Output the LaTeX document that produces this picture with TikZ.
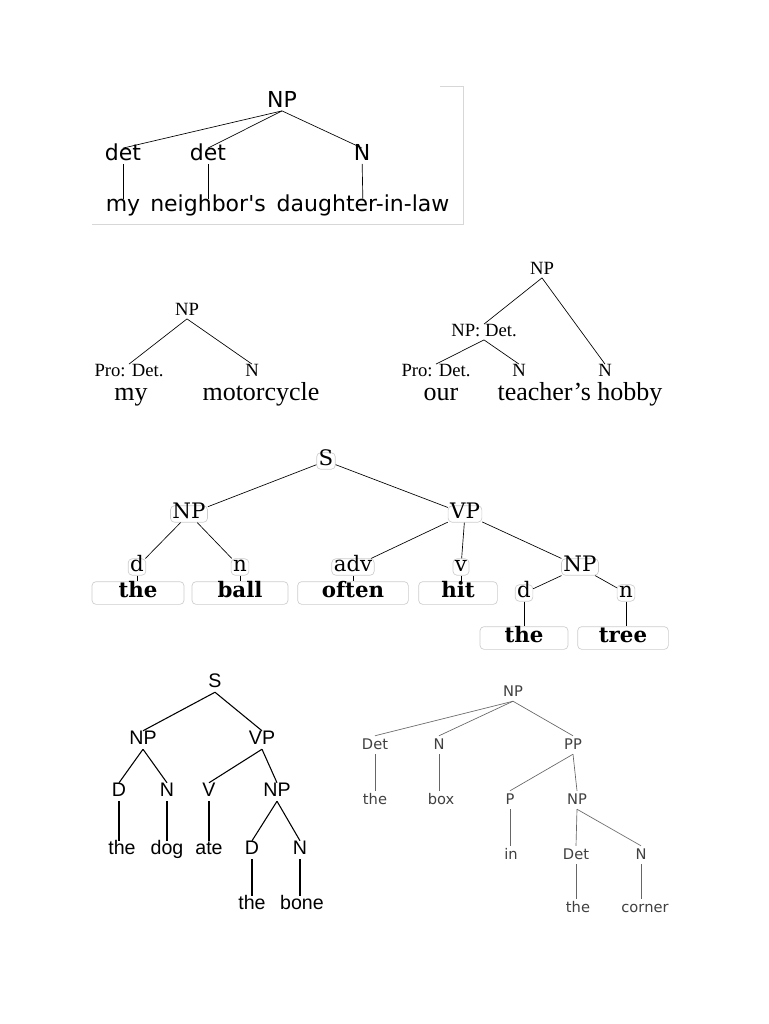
\documentclass[tikz,border=0pt]{standalone}
\usepackage{fontspec}
\setmainfont{DejaVu Serif}
\newfontfamily\dejasans{DejaVu Sans}
\newfontfamily\libserif{Liberation Serif}
\newfontfamily\libsans{Liberation Sans}
\usetikzlibrary{positioning}
\definecolor{boxgray}{RGB}{205,205,205}
\definecolor{framegray}{RGB}{215,215,215}
\tikzset{every picture/.style={line width=0.5pt}}
\tikzset{
  every node/.style={text height=1.5ex,text depth=.3ex},
  aone/.style={font=\dejasans\fontsize{16.5}{18}\selectfont,inner sep=1pt},
  atwo/.style={font=\libserif\fontsize{14}{16}\selectfont,inner sep=1pt},
  wtwo/.style={font=\libserif\fontsize{19.5}{21}\selectfont,inner sep=1pt},
  cat/.style={font=\fontsize{16}{18}\selectfont,draw=boxgray,rounded corners=3pt,inner sep=1.5pt},
  leaf/.style={font=\bfseries\fontsize{16}{18}\selectfont,draw=boxgray,rounded corners=3pt,inner sep=1pt,minimum height=17pt},
  afive/.style={font=\libsans\fontsize{14.7}{16}\selectfont,inner sep=2pt},
  asix/.style={font=\dejasans\fontsize{11}{12}\selectfont,text=black!75,inner sep=2pt},
}
\begin{document}
\begin{tikzpicture}[x=0.75pt,y=-0.75pt]
\useasboundingbox (0,0) rectangle (768,1024);
% first tree
\draw[framegray] (92,224) -- (463,224) -- (463,86) -- (440,86);
\node[aone] (NPa) at (282,103) {NP};
\node[aone] (Da) at (123,156) {det};
\node[aone] (Db) at (208,156) {det};
\node[aone] (Na) at (362,156) {N};
\node[aone] (Wa) at (123,207) {my};
\node[aone] (Wb) at (208,207) {neighbor's};
\node[aone] (Wc) at (363,207) {daughter-in-law};
\path[draw]
(NPa.south) edge (Da.north)
(NPa.south) edge (Db.north)
(NPa.south) edge (Na.north)
(Da) edge (Wa)
(Db) edge (Wb)
(Na) edge (Wc);
% second tree
\node[atwo] (NPb) at (187,311) {NP};
\node[atwo] (PDb) at (129,372) {Pro: Det.};
\node[atwo] (Nb) at (252,372) {N};
\node[wtwo] (Wd) at (131,396) {my};
\node[wtwo] (We) at (261,396) {motorcycle};
\path[draw]
(NPb.south) edge (PDb.north)
(NPb.south) edge (Nb.north);
% third tree
\node[atwo] (NPc) at (542,270) {NP};
\node[atwo] (NDc) at (484,332) {NP: Det.};
\node[atwo] (Nc) at (605,372) {N};
\node[atwo] (PDc) at (436,372) {Pro: Det.};
\node[atwo] (Nd) at (519,372) {N};
\node[wtwo] (Wf) at (441,396) {our};
\node[wtwo] (Wg) at (580,396) {teacher’s hobby};
\path[draw]
(NPc.south) edge (NDc.north)
(NPc.south) edge (Nc.north)
(NDc.south) edge (PDc.north)
(NDc.south) edge (Nd.north);
% fourth tree
\node[cat] (S) at (326,461) {S};
\node[cat] (NPd) at (189,514) {NP};
\node[cat] (VPd) at (465,514) {VP};
\node[cat] (dd) at (137,567) {d};
\node[cat] (nd) at (240,567) {n};
\node[cat] (advd) at (353,567) {adv};
\node[cat] (vd) at (461,567) {v};
\node[cat] (NPe) at (580,567) {NP};
\node[leaf,minimum width=69pt] (Wh) at (138,593) {the};
\node[leaf,minimum width=72pt] (Wi) at (240,593) {ball};
\node[leaf,minimum width=83pt] (Wj) at (353,593) {often};
\node[leaf,minimum width=59pt] (Wk) at (458,593) {hit};
\node[cat] (de) at (524,593) {d};
\node[cat] (ne) at (626,593) {n};
\node[leaf,minimum width=66pt] (Wl) at (524,638) {the};
\node[leaf,minimum width=68pt] (Wm) at (623,638) {tree};
\path[draw]
(S) edge (NPd)
(S) edge (VPd)
(NPd) edge (dd)
(NPd) edge (nd)
(VPd) edge (advd)
(VPd) edge (vd)
(VPd) edge (NPe)
(dd) edge (dd|-Wh.north)
(nd) edge (nd|-Wi.north)
(advd) edge (advd|-Wj.north)
(vd) edge (vd|-Wk.north)
(NPe) edge (de)
(NPe) edge (ne)
(de) edge (de|-Wl.north)
(ne) edge (ne|-Wm.north);
% fifth tree
\node[afive] (Sf) at (215,683) {S};
\node[afive] (NPf) at (143,740) {NP};
\node[afive] (VPf) at (262,740) {VP};
\node[afive] (Df) at (119,792) {D};
\node[afive] (Nf) at (167,792) {N};
\node[afive] (Vf) at (209,792) {V};
\node[afive] (NPg) at (277,792) {NP};
\node[afive] (Wn) at (122,850) {the};
\node[afive] (Wo) at (167,850) {dog};
\node[afive] (Wp) at (209,850) {ate};
\node[afive] (Dg) at (252,850) {D};
\node[afive] (Ng) at (300,850) {N};
\node[afive] (Wq) at (252,905) {the};
\node[afive] (Wr) at (302,905) {bone};
\path[draw,line width=0.8pt]
(Sf.south) edge (NPf.north)
(Sf.south) edge (VPf.north)
(NPf.south) edge (Df.north)
(NPf.south) edge (Nf.north)
(VPf.south) edge (Vf.north)
(VPf.south) edge (NPg.north)
(Df) edge (Df|-Wn.north)
(Nf) edge (Nf|-Wo.north)
(Vf) edge (Vf|-Wp.north)
(NPg.south) edge (Dg.north)
(NPg.south) edge (Ng.north)
(Dg) edge (Dg|-Wq.north)
(Ng) edge (Ng|-Wr.north);
% sixth tree
\node[asix] (NPh) at (513,692) {NP};
\node[asix] (Dh) at (375,745) {Det};
\node[asix] (Nh) at (439,745) {N};
\node[asix] (PPh) at (573,745) {PP};
\node[asix] (Ws) at (375,800) {the};
\node[asix] (Wt) at (441,800) {box};
\node[asix] (Ph) at (510,800) {P};
\node[asix] (NPi) at (577,800) {NP};
\node[asix] (Wu) at (511,855) {in};
\node[asix] (Di) at (576,855) {Det};
\node[asix] (Ni) at (641,855) {N};
\node[asix] (Wv) at (578,908) {the};
\node[asix] (Ww) at (645,908) {corner};
\path[draw,black!60]
(NPh.south) edge (Dh.north)
(NPh.south) edge (Nh.north)
(NPh.south) edge (PPh.north)
(Dh) edge (Dh|-Ws.north)
(Nh) edge (Nh|-Wt.north)
(PPh.south) edge (Ph.north)
(PPh.south) edge (NPi.north)
(Ph) edge (Ph|-Wu.north)
(NPi.south) edge (Di.north)
(NPi.south) edge (Ni.north)
(Di) edge (Di|-Wv.north)
(Ni) edge (Ni|-Ww.north);
\end{tikzpicture}
\end{document}
